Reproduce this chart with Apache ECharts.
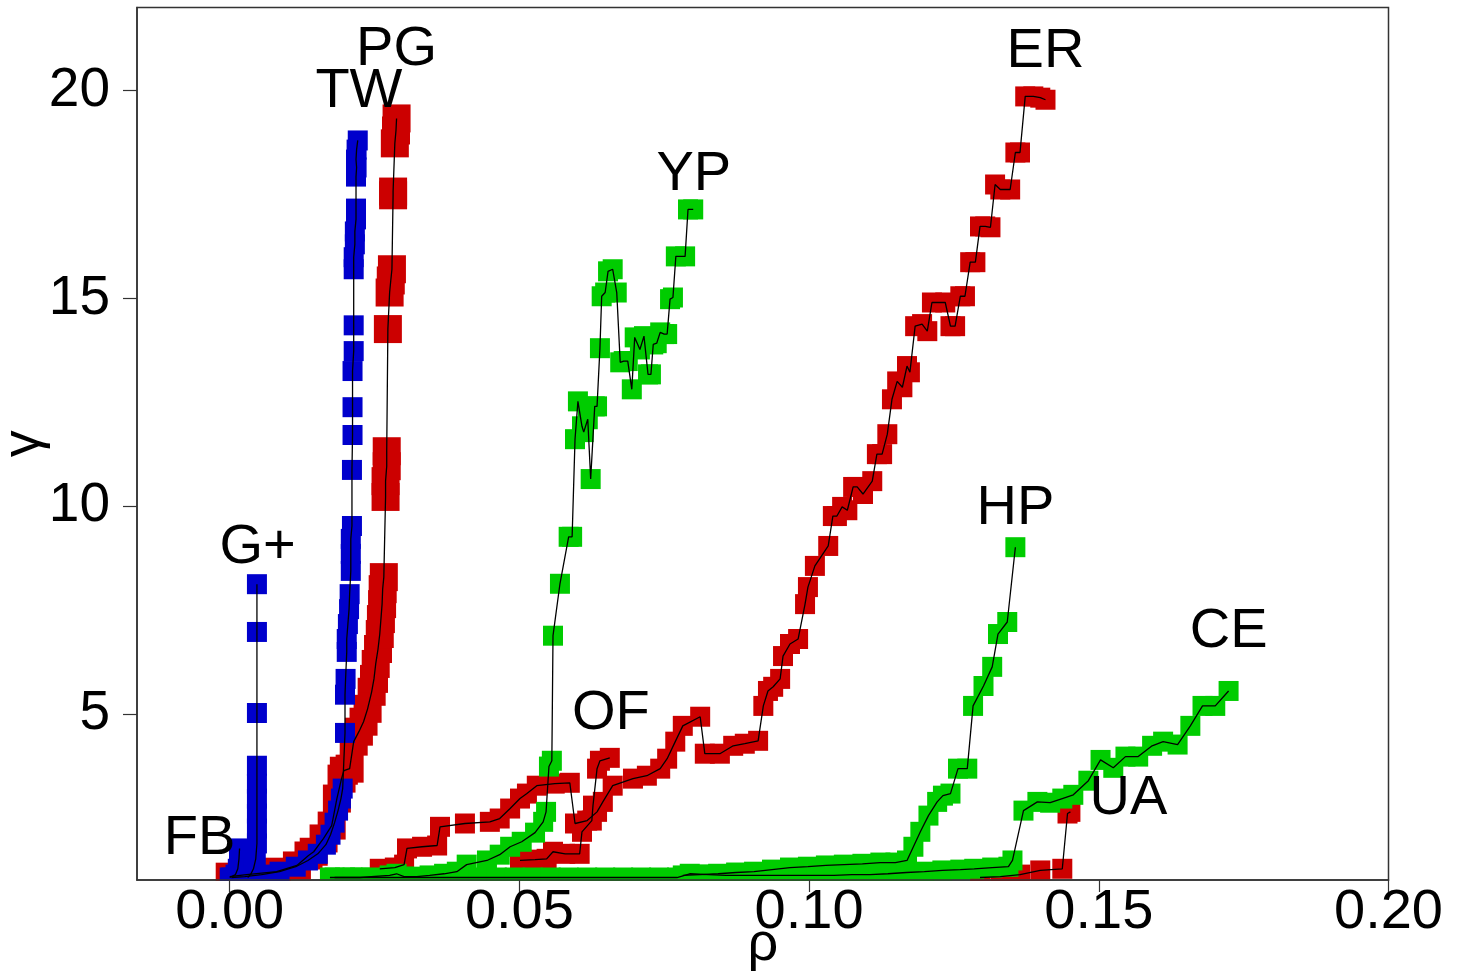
<!DOCTYPE html>
<html>
<head>
<meta charset="utf-8">
<script src="https://cdn.jsdelivr.net/npm/echarts@6/dist/echarts.min.js"></script>
<style>html,body{margin:0;padding:0;background:#fff}#c{width:1463px;height:979px}</style>
</head>
<body>
<div id="c"></div>
<script>
// ---- tick values ----
const xTicks = [0, 0.05, 0.10, 0.15, 0.20];
const yTicks = [5, 10, 15, 20];

// ---- series values [rho, gamma] ----
const FB = [[0.0,1.06],[0.0010,1.13],[0.0014,1.27],[0.0016,1.51],[0.0017,1.76]];
const GP = [[0.0031,1.06],[0.0036,1.13],[0.0041,1.27],[0.0045,1.51],[0.0047,1.88],[0.0047,2.24],[0.0047,2.60],[0.0047,2.96],[0.0047,3.32],[0.0047,3.75],[0.0047,5.02],[0.0047,6.97],[0.0047,8.12]];
const TW = [[0.0003,1.06],[0.0026,1.08],[0.0055,1.13],[0.0086,1.20],[0.0114,1.32],[0.0135,1.47],[0.0152,1.63],[0.0166,1.85],[0.0174,2.09],[0.0181,2.38],[0.0187,2.67],[0.0192,2.96],[0.0195,3.20],[0.0199,4.54],[0.0199,5.46],[0.0200,5.84],[0.0202,6.49],[0.0202,6.80],[0.0204,7.16],[0.0206,7.52],[0.0207,7.88],[0.0209,8.44],[0.0209,8.85],[0.0209,9.21],[0.0211,9.52],[0.0211,10.87],[0.0212,11.71],[0.0212,12.38],[0.0212,13.25],[0.0214,13.73],[0.0214,14.35],[0.0214,15.70],[0.0214,15.99],[0.0216,16.30],[0.0216,16.61],[0.0218,16.90],[0.0218,17.16],[0.0218,17.93],[0.0219,18.15],[0.0218,18.34],[0.0219,18.58],[0.0221,18.80]];
const PG = [[0.0000,1.08],[0.0029,1.13],[0.0081,1.20],[0.0116,1.35],[0.0136,1.59],[0.0145,1.68],[0.0162,2.00],[0.0176,2.31],[0.0185,2.96],[0.0193,3.44],[0.0197,3.63],[0.0207,3.68],[0.0214,4.33],[0.0223,4.57],[0.0231,4.81],[0.0238,5.12],[0.0245,5.53],[0.0249,5.84],[0.0252,6.20],[0.0256,6.56],[0.0259,6.92],[0.0261,7.28],[0.0263,7.64],[0.0264,8.00],[0.0266,8.29],[0.0269,10.22],[0.0269,10.60],[0.0271,10.96],[0.0271,11.32],[0.0273,14.26],[0.0276,15.14],[0.0278,15.43],[0.0280,15.70],[0.0282,17.48],[0.0282,17.57],[0.0285,18.73],[0.0287,19.04],[0.0288,19.33]];
const OF = [[0.0501,1.47],[0.0527,1.49],[0.0547,1.51],[0.0558,1.68],[0.0579,1.63],[0.0604,1.63],[0.0608,2.16],[0.0625,2.43],[0.0627,2.79],[0.0634,3.68],[0.0639,3.87],[0.0656,3.94]];
const ER = [[0.0259,1.27],[0.0285,1.30],[0.0301,1.37],[0.0306,1.76],[0.0332,1.80],[0.0358,1.83],[0.0363,2.28],[0.0406,2.36],[0.0449,2.40],[0.0466,2.48],[0.0484,2.72],[0.0501,2.96],[0.0513,3.08],[0.0530,3.27],[0.0561,3.32],[0.0587,3.34],[0.0596,2.36],[0.0617,2.43],[0.0634,2.64],[0.0644,2.88],[0.0661,3.27],[0.0696,3.44],[0.0720,3.51],[0.0743,3.68],[0.0755,3.92],[0.0769,4.33],[0.0782,4.71],[0.0812,4.93],[0.0820,4.04],[0.0846,4.04],[0.0869,4.23],[0.0889,4.28],[0.0912,4.35],[0.0921,5.19],[0.0929,5.55],[0.0938,5.65],[0.0950,5.84],[0.0955,6.39],[0.0967,6.68],[0.0981,6.80],[0.0993,7.64],[0.0998,8.05],[0.1010,8.56],[0.1033,9.04],[0.1041,9.76],[0.1048,9.76],[0.1057,9.98],[0.1066,9.90],[0.1076,10.46],[0.1083,10.46],[0.1093,10.29],[0.1109,10.60],[0.1117,11.25],[0.1126,11.25],[0.1135,11.73],[0.1143,12.57],[0.1152,13.00],[0.1161,12.86],[0.1169,13.37],[0.1174,13.22],[0.1183,14.33],[0.1195,14.38],[0.1204,14.21],[0.1212,14.90],[0.1235,14.90],[0.1244,14.33],[0.1252,14.33],[0.1261,15.05],[0.1269,15.05],[0.1278,15.87],[0.1287,15.87],[0.1295,16.73],[0.1304,16.73],[0.1313,16.71],[0.1321,17.74],[0.1330,17.62],[0.1347,17.62],[0.1356,18.51],[0.1364,18.51],[0.1373,19.86],[0.1387,19.86],[0.1399,19.83],[0.1408,19.78]];
const UA = [[0.1295,1.06],[0.1330,1.08],[0.1364,1.13],[0.1399,1.23],[0.1437,1.27],[0.1446,2.60],[0.1451,2.64]];
const YP = [[0.0173,1.06],[0.0199,1.06],[0.0225,1.06],[0.0276,1.11],[0.0288,1.15],[0.0301,1.08],[0.0323,1.08],[0.0345,1.11],[0.0370,1.15],[0.0392,1.20],[0.0409,1.37],[0.0444,1.47],[0.0466,1.61],[0.0484,1.80],[0.0504,1.92],[0.0527,2.14],[0.0541,2.40],[0.0546,2.64],[0.0551,3.73],[0.0556,3.87],[0.0558,6.88],[0.0570,8.13],[0.0585,9.26],[0.0591,9.26],[0.0596,11.61],[0.0601,12.52],[0.0608,11.92],[0.0611,11.78],[0.0618,12.09],[0.0623,10.65],[0.0630,12.40],[0.0634,12.40],[0.0639,13.80],[0.0642,15.05],[0.0648,15.14],[0.0653,15.65],[0.0661,15.70],[0.0668,15.14],[0.0674,13.46],[0.0680,13.49],[0.0687,13.49],[0.0694,12.81],[0.0699,14.06],[0.0708,13.77],[0.0715,14.09],[0.0722,13.17],[0.0727,13.17],[0.0731,13.89],[0.0737,13.92],[0.0743,14.18],[0.0750,14.14],[0.0755,14.14],[0.0760,14.98],[0.0765,15.02],[0.0770,16.01],[0.0786,16.01],[0.0791,17.14],[0.0800,17.14]];
const HP = [[0.0782,1.11],[0.0812,1.13],[0.0843,1.15],[0.0874,1.18],[0.0905,1.20],[0.0936,1.25],[0.0967,1.30],[0.0998,1.32],[0.1029,1.35],[0.1060,1.37],[0.1092,1.39],[0.1123,1.42],[0.1149,1.42],[0.1169,1.47],[0.1180,1.80],[0.1192,2.16],[0.1206,2.55],[0.1221,2.88],[0.1231,3.03],[0.1244,3.08],[0.1257,3.68],[0.1273,3.68],[0.1283,5.19],[0.1301,5.67],[0.1316,6.13],[0.1326,6.92],[0.1342,7.21],[0.1356,9.01]];
const CE = [[0.0181,1.06],[0.0212,1.06],[0.0244,1.06],[0.0275,1.06],[0.0306,1.06],[0.0337,1.06],[0.0368,1.06],[0.0399,1.06],[0.0430,1.06],[0.0461,1.06],[0.0492,1.06],[0.0523,1.06],[0.0554,1.06],[0.0585,1.06],[0.0617,1.06],[0.0648,1.06],[0.0679,1.06],[0.0710,1.06],[0.0741,1.06],[0.0772,1.06],[0.0794,1.15],[0.0826,1.13],[0.0857,1.11],[0.0888,1.11],[0.0919,1.11],[0.0950,1.11],[0.0981,1.11],[0.1012,1.11],[0.1043,1.11],[0.1074,1.13],[0.1105,1.13],[0.1136,1.15],[0.1168,1.18],[0.1199,1.20],[0.1230,1.23],[0.1261,1.25],[0.1285,1.27],[0.1316,1.30],[0.1344,1.32],[0.1351,1.47],[0.1370,2.67],[0.1394,2.88],[0.1416,2.86],[0.1437,2.96],[0.1456,3.05],[0.1482,3.39],[0.1503,3.89],[0.1525,3.70],[0.1546,3.97],[0.1568,3.97],[0.1592,4.23],[0.1611,4.33],[0.1636,4.26],[0.1658,4.71],[0.1679,5.19],[0.1701,5.19],[0.1724,5.55]];

// ---- curve labels ----
const labelNames = ['FB','G+','TW','PG','YP','ER','HP','CE','OF','UA'];
const labelX = [-0.0052, 0.0048, 0.0223, 0.0288, 0.0801, 0.1408, 0.1356, 0.1724, 0.0658, 0.1551];
const labelY = [2.00, 8.99, 19.98, 20.99, 17.98, 20.94, 9.95, 6.97, 5.00, 2.96];

const RED = '#cc0000', GREEN = '#00cc00', BLUE = '#0000cc';
const groups = [
  {data: PG, color: RED, size: 28},
  {data: OF, color: RED, size: 20},
  {data: ER, color: RED, size: 20},
  {data: UA, color: RED, size: 20},
  {data: YP, color: GREEN, size: 20},
  {data: HP, color: GREEN, size: 20},
  {data: CE, color: GREEN, size: 20},
  {data: FB, color: BLUE, size: 20},
  {data: GP, color: BLUE, size: 20},
  {data: TW, color: BLUE, size: 20}
];

const FONT = 'Liberation Sans, Arial, Helvetica, sans-serif';
const series = [];
groups.forEach(g => series.push({
  type: 'scatter', data: g.data, symbol: 'rect', symbolSize: g.size,
  itemStyle: {color: g.color, opacity: 1}, z: 2, silent: true, animation: false
}));
groups.forEach(g => series.push({
  type: 'line', data: g.data, symbol: 'none', showSymbol: false,
  lineStyle: {color: '#000', width: 1.3}, z: 4, silent: true, animation: false
}));
series.push({
  type: 'scatter', symbol: 'circle', symbolSize: 0.1, itemStyle: {color: '#fff'},
  data: labelNames.map((n, i) => ({name: n, value: [labelX[i], labelY[i]]})),
  label: {show: true, position: 'inside', formatter: '{b}', fontSize: 56, color: '#000',
          textBorderWidth: 0, opacity: 1, fontFamily: FONT},
  z: 10, silent: true, animation: false
});

const chart = echarts.init(document.getElementById('c'), null, {renderer: 'canvas'});
chart.setOption({
  animation: false,
  backgroundColor: '#fff',
  grid: {left: 137, right: 74.5, top: 7.5, bottom: 99, containLabel: false, outerBoundsMode: 'none',
         show: true, borderColor: '#333', borderWidth: 1.5, backgroundColor: 'transparent'},
  xAxis: {
    type: 'value', min: -0.016, max: 0.2, z: 60,
    axisLine: {show: true, onZero: false, lineStyle: {color: '#333', width: 1.5}},
    axisTick: {show: true, customValues: xTicks, length: 12, lineStyle: {color: '#333', width: 1.2}},
    axisLabel: {customValues: xTicks, formatter: v => v.toFixed(2), fontSize: 56, color: '#000', margin: 5, fontFamily: FONT},
    splitLine: {show: false},
    name: 'ρ', nameLocation: 'middle', nameGap: 38, nameMoveOverlap: false,
    nameTextStyle: {fontSize: 54, color: '#000', fontFamily: FONT}
  },
  yAxis: {
    type: 'value', min: 1, max: 22, z: 60,
    axisLine: {show: true, onZero: false, lineStyle: {color: '#333', width: 1.5}},
    axisTick: {show: true, customValues: yTicks, length: 14, lineStyle: {color: '#333', width: 1.2}},
    axisLabel: {customValues: yTicks, fontSize: 55, color: '#000', margin: 27, fontFamily: FONT},
    splitLine: {show: false},
    name: 'γ', nameLocation: 'middle', nameGap: 86, nameMoveOverlap: false,
    nameTextStyle: {fontSize: 54, color: '#000', fontFamily: FONT}
  },
  graphic: [{type: 'rect', left: 0, bottom: 0, shape: {width: 1463, height: 98}, style: {fill: '#fff'}, z: 50, silent: true}],
  series: series
});
</script>
</body>
</html>
